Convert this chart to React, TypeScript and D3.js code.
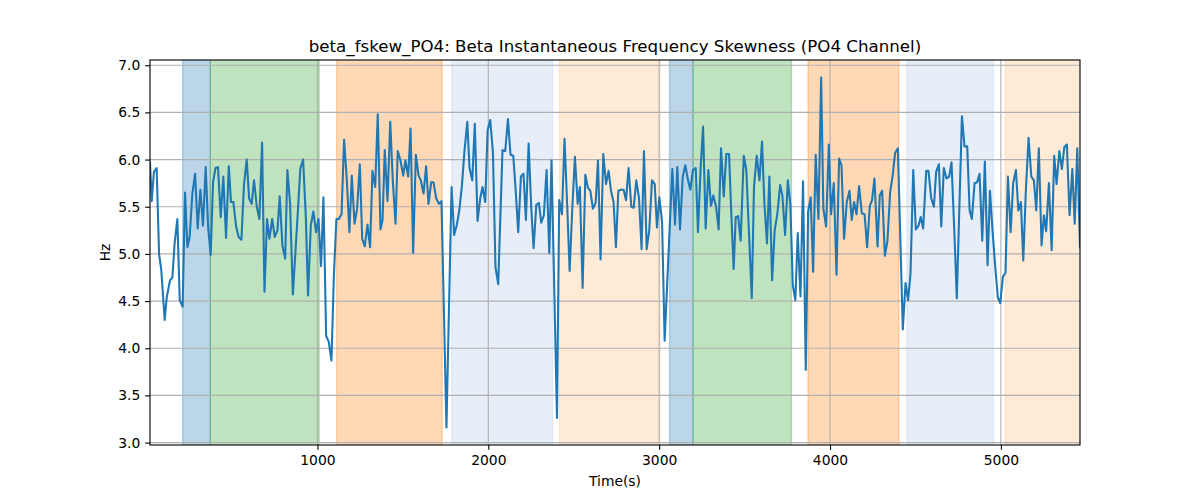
import * as d3 from "d3";
import { useEffect, useRef } from "react";

// sample times (s) and beta instantaneous frequency skewness (Hz)
const times = [
  20, 30, 43, 59, 73, 86, 106, 118, 137, 151, 164, 180, 194, 211, 225, 239, 252, 268, 284, 299,
  315, 330, 346, 360, 375, 389, 403, 418, 434, 449, 465, 481, 494, 508, 524, 539, 555, 570, 586, 600,
  615, 629, 645, 660, 676, 690, 705, 719, 735, 750, 766, 779, 795, 811, 824, 840, 856, 871, 887, 900,
  916, 932, 945, 961, 976, 992, 1006, 1021, 1035, 1051, 1066, 1082, 1096, 1111, 1125, 1141, 1156, 1172, 1187, 1201,
  1217, 1232, 1248, 1262, 1277, 1293, 1308, 1322, 1338, 1353, 1369, 1381, 1394, 1410, 1426, 1441, 1457, 1470, 1486, 1502,
  1515, 1531, 1545, 1560, 1576, 1592, 1605, 1621, 1636, 1650, 1666, 1679, 1695, 1711, 1726, 1755, 1785, 1800, 1816, 1830,
  1845, 1861, 1877, 1890, 1906, 1921, 1937, 1953, 1966, 1982, 1996, 2011, 2027, 2042, 2058, 2083, 2099, 2115, 2130, 2146,
  2160, 2175, 2191, 2206, 2220, 2236, 2251, 2265, 2281, 2296, 2310, 2325, 2341, 2357, 2370, 2402, 2415, 2431, 2446, 2462,
  2476, 2491, 2507, 2523, 2536, 2552, 2568, 2583, 2597, 2612, 2628, 2642, 2657, 2673, 2689, 2704, 2718, 2733, 2747, 2761,
  2776, 2792, 2806, 2821, 2837, 2851, 2866, 2882, 2897, 2911, 2927, 2942, 2958, 2974, 2987, 3001, 3017, 3032, 3077, 3093,
  3106, 3122, 3138, 3153, 3169, 3182, 3198, 3214, 3227, 3243, 3257, 3272, 3288, 3303, 3317, 3333, 3348, 3362, 3378, 3393,
  3409, 3423, 3436, 3448, 3462, 3477, 3495, 3510, 3542, 3555, 3571, 3587, 3602, 3616, 3631, 3645, 3661, 3676, 3692, 3708,
  3721, 3737, 3753, 3768, 3782, 3797, 3811, 3827, 3842, 3858, 3872, 3887, 3901, 3916, 3932, 3948, 3961, 3977, 3993, 4006,
  4022, 4038, 4053, 4067, 4082, 4098, 4114, 4127, 4141, 4155, 4170, 4186, 4202, 4217, 4233, 4246, 4260, 4278, 4291, 4305,
  4321, 4336, 4352, 4366, 4381, 4397, 4426, 4442, 4457, 4471, 4487, 4502, 4518, 4531, 4545, 4563, 4576, 4592, 4608, 4621,
  4637, 4651, 4666, 4682, 4697, 4711, 4727, 4742, 4772, 4787, 4803, 4817, 4830, 4846, 4861, 4875, 4891, 4906, 4922, 4936,
  4951, 4967, 4982, 4996, 5012, 5027, 5041, 5057, 5072, 5088, 5102, 5117, 5131, 5146, 5162, 5178, 5193, 5207, 5222, 5238,
  5252, 5265, 5281, 5297, 5312, 5326, 5342, 5357, 5371, 5386, 5402, 5418, 5432, 5447, 5463,
];

const hz = [
  5.97, 5.56, 5.87, 5.91, 5.0, 4.83, 4.3, 4.54, 4.72, 4.75, 5.11, 5.37, 4.51, 4.44, 5.65, 5.07, 5.18, 5.64, 5.85, 5.27,
  5.68, 5.3, 5.92, 5.29, 4.99, 5.76, 5.91, 5.92, 5.39, 5.82, 5.17, 5.93, 5.55, 5.55, 5.29, 5.18, 5.15, 5.73, 6.0, 5.59,
  5.53, 5.78, 5.5, 5.37, 6.18, 4.6, 5.37, 5.16, 5.37, 5.18, 5.25, 5.61, 5.09, 4.95, 5.89, 5.53, 4.57, 5.02, 5.5, 5.91,
  6.0, 5.39, 4.56, 5.3, 5.45, 5.23, 5.37, 4.87, 5.6, 4.13, 4.07, 3.87, 4.76, 5.37, 5.37, 5.42, 6.21, 5.78, 5.23, 5.83,
  5.32, 5.48, 5.95, 5.16, 5.08, 5.31, 5.07, 5.88, 5.71, 6.48, 5.26, 5.36, 6.1, 5.56, 6.4, 5.78, 5.32, 6.09, 5.99, 5.83,
  5.99, 5.82, 6.33, 5.01, 6.05, 5.83, 5.78, 5.64, 5.93, 5.53, 5.76, 5.76, 5.59, 5.53, 5.56, 3.16, 5.71, 5.2, 5.31, 5.46,
  5.71, 6.1, 6.4, 5.91, 5.78, 6.38, 5.35, 5.59, 5.71, 5.55, 6.31, 6.42, 6.08, 4.86, 4.68, 6.1, 6.09, 6.43, 6.05, 6.04,
  5.68, 5.23, 5.82, 5.85, 5.36, 6.17, 5.5, 5.06, 5.52, 5.54, 5.33, 5.41, 5.89, 5.01, 5.99, 3.26, 5.57, 5.42, 6.22, 5.5,
  4.82, 5.46, 6.03, 5.53, 5.71, 4.64, 5.84, 5.7, 5.67, 5.48, 5.54, 5.99, 4.94, 6.06, 5.74, 5.88, 5.67, 5.55, 5.07, 5.67,
  5.68, 5.68, 5.57, 5.91, 5.5, 5.49, 5.78, 5.59, 5.05, 6.09, 5.05, 5.25, 5.78, 5.74, 5.28, 5.6, 5.34, 4.08, 5.9, 5.31,
  5.92, 5.26, 5.82, 5.94, 5.78, 5.68, 5.89, 5.91, 5.23, 5.92, 6.35, 5.27, 5.89, 5.51, 5.62, 5.5, 5.26, 6.12, 5.61, 6.06,
  6.06, 5.39, 4.84, 5.39, 5.4, 5.14, 6.04, 5.89, 4.53, 5.71, 6.04, 5.78, 6.19, 5.53, 5.11, 5.82, 4.72, 5.25, 5.43, 5.73,
  5.62, 5.2, 5.78, 5.52, 4.67, 4.51, 5.22, 4.55, 5.77, 3.77, 5.45, 5.6, 4.81, 6.05, 5.37, 6.87, 5.48, 5.29, 6.16, 5.42,
  5.75, 4.78, 6.01, 5.94, 5.16, 5.55, 5.67, 5.36, 5.55, 5.42, 5.72, 5.43, 5.42, 5.07, 5.51, 5.57, 5.8, 5.08, 5.62, 5.67,
  4.98, 5.14, 5.66, 5.82, 6.07, 6.12, 4.2, 4.69, 4.51, 4.79, 5.89, 5.26, 5.3, 5.39, 5.27, 5.88, 5.88, 5.59, 5.5, 5.87,
  5.95, 5.29, 5.91, 5.8, 5.82, 5.97, 5.26, 4.53, 6.46, 6.14, 6.14, 5.46, 5.37, 5.75, 5.76, 5.85, 5.14, 5.98, 4.88, 5.67,
  5.25, 4.86, 4.54, 4.48, 4.76, 4.8, 5.82, 5.23, 5.75, 5.89, 5.46, 5.55, 4.93, 5.67, 6.23, 5.82, 5.78, 5.46, 6.12, 5.09,
  5.41, 5.24, 5.75, 5.04, 6.04, 5.74, 6.09, 5.9, 6.13, 6.16, 5.41, 5.9, 5.32, 6.12, 5.07,
];

// shaded time windows
const spanStarts = [211, 373, 1112, 1786, 2417, 3061, 3198, 3871, 4450, 5025];
const spanEnds = [373, 1010, 1730, 2376, 3004, 3198, 3774, 4403, 4957, 5600];
const spanColors = [
  "#1f77b4", "#2ca02c", "#ff7f0e", "#aec7e8", "#ffbb78",
  "#1f77b4", "#2ca02c", "#ff7f0e", "#aec7e8", "#ffbb78",
];

const xTicks = [1000, 2000, 3000, 4000, 5000];
const yTicks = [3.0, 3.5, 4.0, 4.5, 5.0, 5.5, 6.0, 6.5, 7.0];

const title = "beta_fskew_PO4: Beta Instantaneous Frequency Skewness (PO4 Channel)";

const W = 1200;
const H = 500;
const margin = { left: 150, right: 120, top: 60, bottom: 55 };
const FONT = "'DejaVu Sans', sans-serif";

export default function App() {
  const ref = useRef<SVGSVGElement | null>(null);

  useEffect(() => {
    const svg = d3.select(ref.current);
    svg.selectAll("*").remove();

    const x0 = margin.left;
    const x1 = W - margin.right;
    const y0 = margin.top;
    const y1 = H - margin.bottom;

    const x = d3.scaleLinear().domain(d3.extent(times) as [number, number]).range([x0, x1]);
    const [lo, hi] = d3.extent(hz) as [number, number];
    const pad = (hi - lo) * 0.05;
    const y = d3.scaleLinear().domain([lo - pad, hi + pad]).range([y1, y0]);

    svg.append("rect").attr("width", W).attr("height", H).attr("fill", "#fff");

    svg
      .append("defs")
      .append("clipPath")
      .attr("id", "plot-clip")
      .append("rect")
      .attr("x", x0)
      .attr("y", y0)
      .attr("width", x1 - x0)
      .attr("height", y1 - y0);

    const plot = svg.append("g").attr("clip-path", "url(#plot-clip)");

    // spans
    plot
      .selectAll("rect.span")
      .data(spanStarts.map((s, i) => ({ s, e: spanEnds[i], c: spanColors[i] })))
      .enter()
      .append("rect")
      .attr("class", "span")
      .attr("x", d => x(d.s))
      .attr("y", y0 - 2)
      .attr("width", d => x(d.e) - x(d.s))
      .attr("height", y1 - y0 + 4)
      .attr("fill", d => d.c)
      .attr("fill-opacity", 0.3)
      .attr("stroke", d => d.c)
      .attr("stroke-opacity", 0.3)
      .attr("stroke-width", 1.39);

    // grid
    plot
      .selectAll("line.gx")
      .data(xTicks)
      .enter()
      .append("line")
      .attr("x1", d => x(d))
      .attr("x2", d => x(d))
      .attr("y1", y0)
      .attr("y2", y1)
      .attr("stroke", "#b0b0b0")
      .attr("stroke-width", 1.11);
    plot
      .selectAll("line.gy")
      .data(yTicks)
      .enter()
      .append("line")
      .attr("x1", x0)
      .attr("x2", x1)
      .attr("y1", d => y(d))
      .attr("y2", d => y(d))
      .attr("stroke", "#b0b0b0")
      .attr("stroke-width", 1.11);

    // series
    const line = d3
      .line<number>()
      .x((_, i) => x(times[i]))
      .y(d => y(d));
    plot
      .append("path")
      .datum(hz)
      .attr("d", line)
      .attr("fill", "none")
      .attr("stroke", "#1f77b4")
      .attr("stroke-width", 2.08)
      .attr("stroke-linejoin", "round")
      .attr("stroke-linecap", "square");

    // axes
    const xAxis = svg
      .append("g")
      .attr("transform", `translate(0,${y1})`)
      .call(d3.axisBottom(x).tickValues(xTicks).tickSize(4.86).tickPadding(4.86).tickFormat(d3.format("d")));
    const yAxis = svg
      .append("g")
      .attr("transform", `translate(${x0},0)`)
      .call(d3.axisLeft(y).tickValues(yTicks).tickSize(4.86).tickPadding(4.86).tickFormat(d3.format(".1f")));
    [xAxis, yAxis].forEach(a => {
      a.select(".domain").remove();
      a.selectAll("line").attr("stroke", "#000").attr("stroke-width", 1.11);
      a.selectAll("text").attr("fill", "#000").style("font-family", FONT).style("font-size", "13.89px");
    });

    // frame
    svg
      .append("rect")
      .attr("x", x0)
      .attr("y", y0)
      .attr("width", x1 - x0)
      .attr("height", y1 - y0)
      .attr("fill", "none")
      .attr("stroke", "#000")
      .attr("stroke-width", 1.11);

    svg
      .append("text")
      .attr("x", (x0 + x1) / 2)
      .attr("y", y0 - 8)
      .attr("text-anchor", "middle")
      .style("font-family", FONT)
      .style("font-size", "16.67px")
      .text(title);

    svg
      .append("text")
      .attr("x", (x0 + x1) / 2)
      .attr("y", 486)
      .attr("text-anchor", "middle")
      .style("font-family", FONT)
      .style("font-size", "13.89px")
      .text("Time(s)");

    svg
      .append("text")
      .attr("transform", `translate(110,${(y0 + y1) / 2}) rotate(-90)`)
      .attr("text-anchor", "middle")
      .style("font-family", FONT)
      .style("font-size", "13.89px")
      .text("Hz");
  }, []);

  return (
    <svg
      ref={ref}
      width={W}
      height={H}
      viewBox={`0 0 ${W} ${H}`}
      style={{ position: "absolute", left: 0, top: 0, display: "block" }}
    />
  );
}
